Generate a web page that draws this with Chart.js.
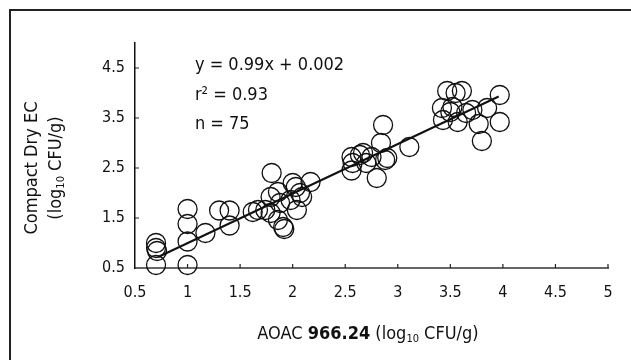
<!DOCTYPE html>
<html>
<head>
<meta charset="utf-8">
<script src="https://cdn.jsdelivr.net/npm/chart.js@4.4.0/dist/chart.umd.min.js"></script>
<style>
    html, body { margin: 0; padding: 0; background: #fff; }
    #wrap { width: 631px; height: 360px; }
</style>
</head>
<body>
<div id="wrap"><canvas id="scatterChart" width="631" height="360"></canvas></div>
<script>
const FONT = "'DejaVu Sans Condensed', 'DejaVu Sans', sans-serif";

// AOAC 966.24 values (log10 CFU/g)
const aoacX = [
    0.70, 0.70, 0.71, 0.70,
    1.00, 1.00, 1.00, 1.00,
    1.17,
    1.30, 1.40, 1.40,
    1.62, 1.67, 1.74, 1.79, 1.80, 1.79, 1.86, 1.88, 1.86, 1.91, 1.92, 1.98, 2.00, 2.04, 2.07, 2.09, 2.17, 2.03,
    2.56, 2.57, 2.56, 2.64, 2.67, 2.70, 2.75, 2.80, 2.84, 2.86, 2.88, 2.90, 3.11,
    3.47, 3.61, 3.55, 3.42, 3.52, 3.50, 3.71, 3.65, 3.57, 3.43, 3.77, 3.80, 3.97, 3.97, 3.85
];
// Compact Dry EC values (log10 CFU/g)
const compactY = [
    1.00, 0.90, 0.84, 0.56,
    1.68, 1.38, 1.03, 0.56,
    1.20,
    1.65, 1.65, 1.35,
    1.62, 1.66, 1.66, 1.60, 2.40, 1.92, 2.02, 1.80, 1.46, 1.32, 1.28, 1.86, 2.20, 1.66, 2.00, 1.92, 2.22, 2.12,
    2.72, 2.60, 2.45, 2.76, 2.80, 2.60, 2.72, 2.30, 3.00, 3.36, 2.66, 2.70, 2.92,
    4.04, 4.04, 4.00, 3.70, 3.72, 3.62, 3.66, 3.60, 3.42, 3.46, 3.38, 3.04, 3.96, 3.42, 3.70
];
// regression line ends
const fitX = [0.72, 3.96];
const fitY = [0.72, 3.93];

const xTicks = [0.5, 1, 1.5, 2, 2.5, 3, 3.5, 4, 4.5, 5];
const xTickLabels = ['0.5', '1', '1.5', '2', '2.5', '3', '3.5', '4', '4.5', '5'];
const yTicks = [0.5, 1.5, 2.5, 3.5, 4.5];
const yTickLabels = ['0.5', '1.5', '2.5', '3.5', '4.5'];

const statLines = ['y = 0.99x + 0.002', 'r\u00B2 = 0.93', 'n = 75'];
const statAtX = 1.07;
const statAtY = [4.56, 3.96, 3.38];

Chart.defaults.font.family = FONT;
Chart.defaults.color = '#111';

// draw text pieces in a row, centred on cx; sub pieces are smaller and lowered
function drawPieces(ctx, pieces, cx, cy, size) {
    const fontOf = p => (p.bold ? 'bold ' : '') + (p.sub ? Math.round(size * 0.6) : size) + 'px ' + FONT;
    let total = 0;
    pieces.forEach(p => { ctx.font = fontOf(p); total += ctx.measureText(p.t).width; });
    let x = cx - total / 2;
    ctx.textAlign = 'left';
    ctx.textBaseline = 'middle';
    pieces.forEach(p => {
        ctx.font = fontOf(p);
        ctx.fillText(p.t, x, p.sub ? cy + size * 0.3 : cy);
        x += ctx.measureText(p.t).width;
    });
}

const scanPlugin = {
    id: 'scanPlugin',
    beforeDraw(chart) {
        const ctx = chart.ctx;
        ctx.save();
        ctx.fillStyle = '#fff';
        ctx.fillRect(0, 0, chart.width, chart.height);
        // page frame
        ctx.strokeStyle = '#222';
        ctx.lineWidth = 2;
        ctx.beginPath();
        ctx.moveTo(631, 10);
        ctx.lineTo(10, 10);
        ctx.lineTo(10, 360);
        ctx.stroke();
        ctx.restore();
    },
    afterDraw(chart) {
        const ctx = chart.ctx;
        const xs = chart.scales.x, ys = chart.scales.y;
        const area = chart.chartArea;
        ctx.save();
        // inward tick marks
        ctx.strokeStyle = '#222';
        ctx.lineWidth = 1.2;
        ctx.beginPath();
        xTicks.slice(1).forEach(v => {
            const px = xs.getPixelForValue(v);
            ctx.moveTo(px, area.bottom);
            ctx.lineTo(px, area.bottom - 4);
        });
        yTicks.slice(1).forEach(v => {
            const py = ys.getPixelForValue(v);
            ctx.moveTo(area.left, py);
            ctx.lineTo(area.left + 4, py);
        });
        ctx.stroke();

        ctx.fillStyle = '#111';
        // regression stats
        ctx.font = '18px ' + FONT;
        ctx.textAlign = 'left';
        ctx.textBaseline = 'middle';
        statLines.forEach((s, i) => {
            ctx.fillText(s, xs.getPixelForValue(statAtX), ys.getPixelForValue(statAtY[i]));
        });

        // x axis title
        drawPieces(ctx, [
            { t: 'AOAC ' }, { t: '966.24', bold: true }, { t: ' (log' }, { t: '10', sub: true }, { t: ' CFU/g)' }
        ], 368, 334, 18);

        // y axis title, two lines
        ctx.translate(0, 168);
        ctx.rotate(-Math.PI / 2);
        drawPieces(ctx, [{ t: 'Compact Dry EC' }], 0, 32, 18);
        drawPieces(ctx, [{ t: '(log' }, { t: '10', sub: true }, { t: ' CFU/g)' }], 0, 56, 18);
        ctx.restore();
    }
};

const ctx = document.getElementById('scatterChart').getContext('2d');
const scatterChart = new Chart(ctx, {
    type: 'scatter',
    data: {
        datasets: [{
            type: 'line',
            label: 'Fit',
            data: fitX.map((x, i) => ({ x: x, y: fitY[i] })),
            borderColor: '#111',
            borderWidth: 2,
            pointRadius: 0,
            fill: false,
            order: 0
        }, {
            label: 'Samples',
            data: aoacX.map((x, i) => ({ x: x, y: compactY[i] })),
            pointRadius: 9.5,
            pointBorderWidth: 1.3,
            borderColor: '#111',
            backgroundColor: 'rgba(255,255,255,0)',
            clip: false,
            order: 1
        }]
    },
    options: {
        responsive: false,
        animation: false,
        events: [],
        layout: { padding: { left: 0, top: 43, right: 23, bottom: 0 } },
        plugins: {
            legend: { display: false },
            tooltip: { enabled: false }
        },
        scales: {
            x: {
                type: 'linear',
                min: 0.5,
                max: 5,
                afterBuildTicks: s => { s.ticks = xTicks.map(v => ({ value: v })); },
                afterFit: s => { s.height = 92; },
                ticks: {
                    font: { size: 16 },
                    color: '#111',
                    padding: 15,
                    maxRotation: 0,
                    autoSkip: false,
                    callback: (v, i) => xTickLabels[i]
                },
                grid: { display: false, drawTicks: false },
                border: { display: true, color: '#666', width: 2 }
            },
            y: {
                type: 'linear',
                min: 0.5,
                max: 5,
                afterBuildTicks: s => { s.ticks = yTicks.map(v => ({ value: v })); },
                afterFit: s => { s.width = 135; },
                ticks: {
                    font: { size: 16 },
                    color: '#111',
                    padding: 10,
                    autoSkip: false,
                    callback: (v, i) => yTickLabels[i]
                },
                grid: { display: false, drawTicks: false },
                border: { display: true, color: '#111', width: 1.5 }
            }
        }
    },
    plugins: [scanPlugin]
});
</script>
</body>
</html>
